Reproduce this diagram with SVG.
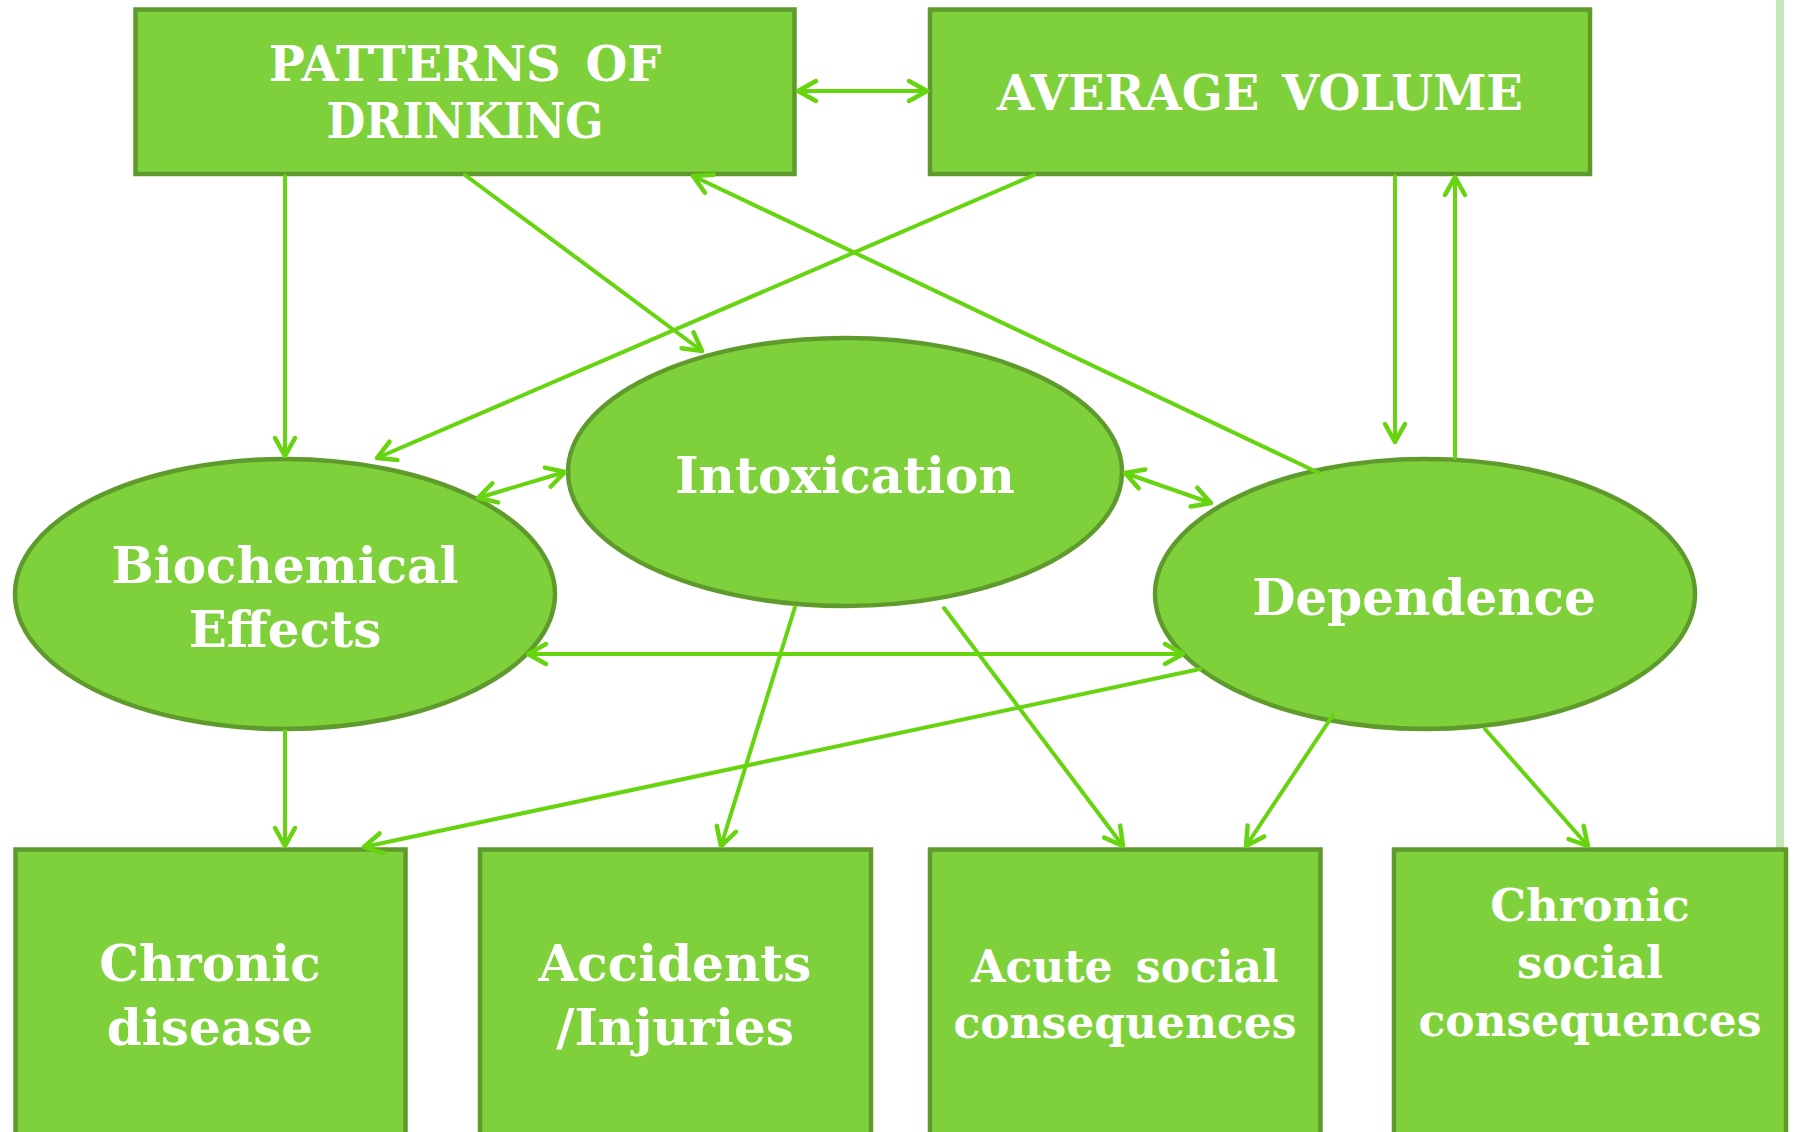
<svg xmlns="http://www.w3.org/2000/svg" width="1795" height="1132" viewBox="0 0 1795 1132">
  <style>
    .box { fill: #7fd13b; stroke: #5f9b2c; stroke-width: 4.5; }
    .lbl { fill: #ffffff; font-family: "DejaVu Serif", "Liberation Serif", serif; font-weight: bold; text-anchor: middle; }
    .c { fill: none; stroke: #66d40e; stroke-width: 4; stroke-linecap: round; }
  </style>
  <defs>
    <marker id="ah" markerUnits="userSpaceOnUse" markerWidth="30" markerHeight="30" viewBox="-25 -15 30 30" refX="0" refY="0" orient="auto-start-reverse">
      <path d="M-18,-10 L0,0 L-18,10" fill="none" stroke="#66d40e" stroke-width="4.5" stroke-linecap="round" stroke-linejoin="round"/>
    </marker>
  </defs>
  <rect width="1795" height="1132" fill="#ffffff"/>
  <rect x="1776" y="0" width="8" height="1132" fill="#c5e6b8"/>

  <g id="patterns">
    <rect class="box" x="135.5" y="9.5" width="659" height="164.5"/>
    <text class="lbl" font-size="48" x="465" y="81" word-spacing="8">PATTERNS OF</text>
    <text class="lbl" font-size="48" x="465" y="138" textLength="277" lengthAdjust="spacingAndGlyphs">DRINKING</text>
  </g>
  <g id="average-volume">
    <rect class="box" x="930" y="9.5" width="660" height="164.5"/>
    <text class="lbl" font-size="48" x="1260" y="110" word-spacing="6">AVERAGE VOLUME</text>
  </g>
  <g id="biochemical">
    <ellipse class="box" cx="285" cy="594" rx="270" ry="135"/>
    <text class="lbl" font-size="50" x="285" y="583">Biochemical</text>
    <text class="lbl" font-size="50" x="285" y="647">Effects</text>
  </g>
  <g id="intoxication">
    <ellipse class="box" cx="845" cy="472" rx="277" ry="134"/>
    <text class="lbl" font-size="50" x="845" y="493">Intoxication</text>
  </g>
  <g id="dependence">
    <ellipse class="box" cx="1425" cy="594" rx="270" ry="135"/>
    <text class="lbl" font-size="50" x="1424" y="615">Dependence</text>
  </g>
  <g id="chronic-disease">
    <rect class="box" x="15.5" y="849.5" width="390" height="320"/>
    <text class="lbl" font-size="50" x="210" y="981">Chronic</text>
    <text class="lbl" font-size="50" x="210" y="1045">disease</text>
  </g>
  <g id="accidents">
    <rect class="box" x="480" y="849.5" width="391" height="320"/>
    <text class="lbl" font-size="50" x="675" y="981">Accidents</text>
    <text class="lbl" font-size="50" x="675" y="1045">/Injuries</text>
  </g>
  <g id="acute-social">
    <rect class="box" x="930" y="849.5" width="390.5" height="320"/>
    <text class="lbl" font-size="44" x="1125" y="982" word-spacing="8">Acute social</text>
    <text class="lbl" font-size="44" x="1125" y="1038">consequences</text>
  </g>
  <g id="chronic-social">
    <rect class="box" x="1394" y="849.5" width="392" height="320"/>
    <text class="lbl" font-size="45" x="1590" y="921">Chronic</text>
    <text class="lbl" font-size="45" x="1590" y="978">social</text>
    <text class="lbl" font-size="44" x="1590" y="1036">consequences</text>
  </g>

  <g id="connectors">
    <line class="c" x1="798" y1="91" x2="927" y2="91" marker-start="url(#ah)" marker-end="url(#ah)"/>
    <line class="c" x1="285" y1="176" x2="285" y2="456" marker-end="url(#ah)"/>
    <line class="c" x1="465" y1="175" x2="702" y2="351" marker-end="url(#ah)"/>
    <line class="c" x1="1034" y1="175" x2="377" y2="458" marker-end="url(#ah)"/>
    <line class="c" x1="1319" y1="473" x2="693" y2="176" marker-end="url(#ah)"/>
    <line class="c" x1="1395" y1="176" x2="1395" y2="442" marker-end="url(#ah)"/>
    <line class="c" x1="1455" y1="458" x2="1455" y2="177" marker-end="url(#ah)"/>
    <line class="c" x1="478" y1="498" x2="565" y2="472" marker-start="url(#ah)" marker-end="url(#ah)"/>
    <line class="c" x1="1125" y1="473" x2="1211" y2="503" marker-start="url(#ah)" marker-end="url(#ah)"/>
    <line class="c" x1="528" y1="654" x2="1183" y2="654" marker-start="url(#ah)" marker-end="url(#ah)"/>
    <line class="c" x1="1200" y1="669" x2="364" y2="847" marker-end="url(#ah)"/>
    <line class="c" x1="285" y1="731" x2="285" y2="846" marker-end="url(#ah)"/>
    <line class="c" x1="795" y1="607" x2="721" y2="846" marker-end="url(#ah)"/>
    <line class="c" x1="944" y1="608" x2="1123" y2="846" marker-end="url(#ah)"/>
    <line class="c" x1="1333" y1="715" x2="1246" y2="846" marker-end="url(#ah)"/>
    <line class="c" x1="1485" y1="729" x2="1588" y2="846" marker-end="url(#ah)"/>
  </g>
</svg>
